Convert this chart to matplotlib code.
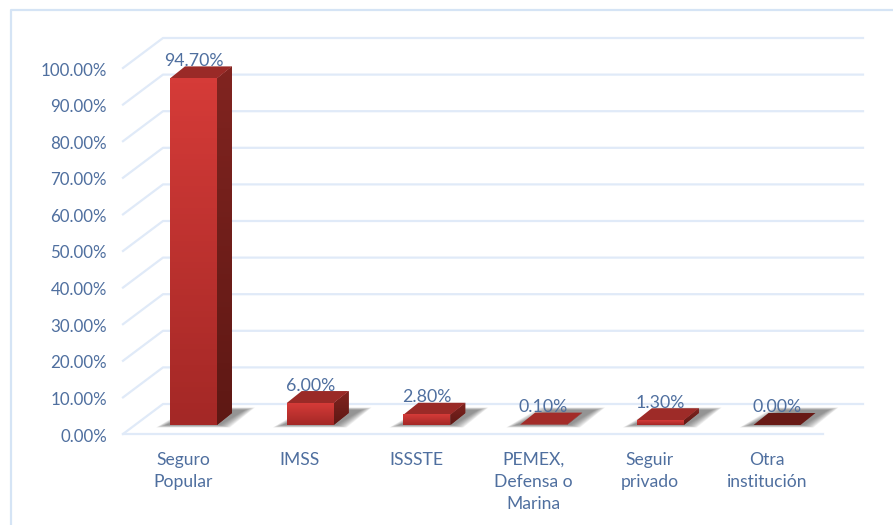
import numpy as np
import matplotlib
matplotlib.use("Agg")
import matplotlib.pyplot as plt
from matplotlib.patches import Polygon
from matplotlib.colors import LinearSegmentedColormap

categories = ["Seguro\nPopular", "IMSS", "ISSSTE", "PEMEX,\nDefensa o\nMarina", "Seguir\nprivado", "Otra\ninstitución"]
values = [94.7, 6.0, 2.8, 0.1, 1.3, 0.0]
value_labels = ["94.70%", "6.00%", "2.80%", "0.10%", "1.30%", "0.00%"]
y_ticks = [0, 10, 20, 30, 40, 50, 60, 70, 80, 90, 100]
y_tick_labels = ["%.2f%%" % t for t in y_ticks]
top_colors = ["#9A2A27", "#9A2A27", "#9A2A27", "#A32C29", "#9E2B28", "#681A16"]

W, H = 893, 525
PX_X = 116.7      # pixels per category
PX_Y = 3.66       # pixels per percent
X0, Y0 = 193.5, 425
TEXT = "#4F6F9F"
GRID = "#E0EAF8"
plt.rcParams["font.family"] = ["Lato", "DejaVu Sans"]

fig = plt.figure(figsize=(W / 100, H / 100), dpi=100)
ax = fig.add_axes([0, 0, 1, 1])
ax.set_xlim(-X0 / PX_X, (W - X0) / PX_X)
ax.set_ylim((Y0 - H) / PX_Y, Y0 / PX_Y)
ax.axis("off")

def dx(px): return px / PX_X
def dy(px): return px / PX_Y

bw = dx(47)          # bar width
ddx, ddy = dx(15), dy(12)   # bar depth

# outer frame
ax.plot([dx(11 - X0), dx(11 - X0), dx(W - X0)], [dy(Y0 - H), dy(Y0 - 10), dy(Y0 - 10)],
        color="#D5E4F5", lw=1.6, zorder=1)

# 3D grid
fx0, fx1 = dx(123 - X0), dx(823 - X0)
bx0, bx1 = dx(163 - X0), dx(863 - X0)
fy, by = dy(-9), dy(21)
for t in y_ticks:
    ax.plot([fx0, bx0, bx1], [t + fy, t + by, t + by], color=GRID, lw=1.6, zorder=1)
ax.plot([fx0, fx1], [fy, fy], color=GRID, lw=1.6, zorder=1)

# y tick labels
for t, lab in zip(y_ticks, y_tick_labels):
    ax.text(dx(107 - X0), t + fy - dy(2.5), lab, ha="right", va="center", color=TEXT, fontsize=12.2, zorder=6)

cmap = LinearSegmentedColormap.from_list("bar", ["#A42826", "#D53B38"])
grad = np.linspace(0, 1, 64).reshape(-1, 1)
side_cmap = LinearSegmentedColormap.from_list("side", ["#5E1814", "#812420"])

for i, (v, topc) in enumerate(zip(values, top_colors)):
    l, r = i - bw / 2, i + bw / 2
    # soft floor shadow
    for k in range(10):
        g = (9 - k) * 1.1
        ax.add_patch(Polygon([(l - dx(4 + g), -dy(g * .25)), (r + dx(3 + g), -dy(g * .25)),
                              (r + dx(28 + g), dy(15 + g * .25)), (l + dx(30 - g), dy(15 + g * .25))],
                             closed=True, fc="#555555", ec="none", alpha=0.09, zorder=2))
    # side face
    side = Polygon([(r, 0), (r + ddx, ddy), (r + ddx, v + ddy), (r, v)], closed=True, fc="#7A2320", ec="none", zorder=3)
    ax.add_patch(side)
    if v >= 1:
        im = ax.imshow(grad, cmap=side_cmap, origin="lower", aspect="auto",
                       extent=(r, r + ddx, 0, v + ddy), zorder=3.1)
        im.set_clip_path(side)
    # top face
    ax.add_patch(Polygon([(l, v), (r, v), (r + ddx, v + ddy), (l + ddx, v + ddy)], closed=True,
                         fc=topc, ec="none", zorder=3.2))
    # front face
    if v >= 0.5:
        im = ax.imshow(grad, cmap=cmap, origin="lower", aspect="auto",
                       extent=(l, r, 0, v), zorder=3.3)
    # value label
    ax.text(i, v + dy(17.5), value_labels[i], ha="center", va="center",
            color=TEXT, fontsize=12.8, zorder=7)
    # category label
    ax.text(i - dx(10.5), dy(Y0 - 452), categories[i], ha="center", va="top",
            color=TEXT, fontsize=12.6, linespacing=1.47, zorder=6)

ax.set_xlim(-X0 / PX_X, (W - X0) / PX_X)
ax.set_ylim((Y0 - H) / PX_Y, Y0 / PX_Y)
fig.savefig("out.png", dpi=100)
